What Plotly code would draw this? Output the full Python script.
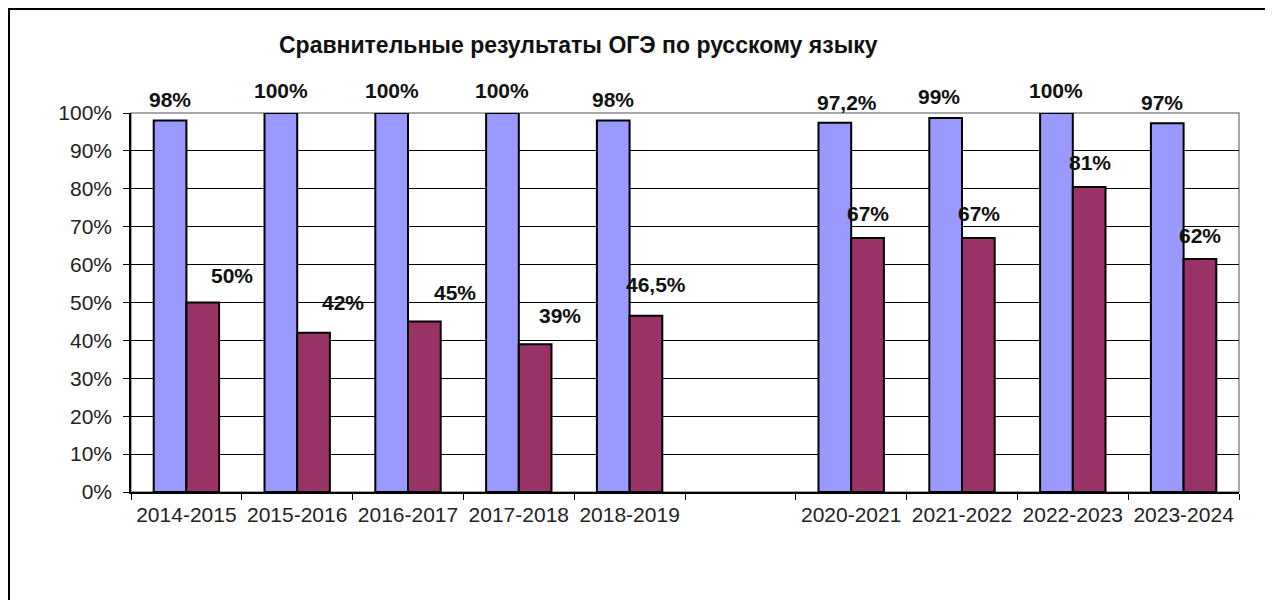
import plotly.graph_objects as go

# data
years = ["2014-2015", "2015-2016", "2016-2017", "2017-2018", "2018-2019", " ",
         "2020-2021", "2021-2022", "2022-2023", "2023-2024"]
passed = [98, 100, 100, 100, 98, None, 97.4, 98.7, 100, 97.3]
quality = [50, 42, 45, 39, 46.5, None, 67, 67, 80.5, 61.5]
passed_text = ["98%", "100%", "100%", "100%", "98%", "", "97,2%", "99%", "100%", "97%"]
quality_text = ["50%", "42%", "45%", "39%", "46,5%", "", "67%", "67%", "81%", "62%"]

# manual label nudges (px), like the hand-moved labels in the original
passed_dx = [0, 0, 0, 0, 0, 0, 12, -7, 0, -5]
passed_dy = [8, 9, 9, 9, 8, 0, 7, 8, 9, 7]
quality_dx = [29, 29, 30, 25, 10, 0, 0, 0, 1, 0]
quality_dy = [14, 17, 15, 15, 18, 0, 11, 11, 11, 10]

FONT = "Liberation Sans, Arial, sans-serif"
BLUE = "#9999FF"
RED = "#993366"
HALF_BAR = 16.5

y_frac = lambda v: None if v is None else v / 100

fig = go.Figure()
fig.add_trace(go.Bar(x=years, y=[y_frac(v) for v in passed], marker_color=BLUE,
                     marker_line=dict(color="black", width=2), name="passed"))
fig.add_trace(go.Bar(x=years, y=[y_frac(v) for v in quality], marker_color=RED,
                     marker_line=dict(color="black", width=2), name="quality"))

for i, cat in enumerate(years):
    if passed[i] is None:
        continue
    fig.add_annotation(x=cat, y=passed[i] / 100, text="<b>%s</b>" % passed_text[i],
                       showarrow=False, yanchor="bottom", xanchor="center",
                       xshift=-HALF_BAR + passed_dx[i], yshift=passed_dy[i],
                       font=dict(family=FONT, size=21, color="#111"))
    fig.add_annotation(x=cat, y=quality[i] / 100, text="<b>%s</b>" % quality_text[i],
                       showarrow=False, yanchor="bottom", xanchor="center",
                       xshift=HALF_BAR + quality_dx[i], yshift=quality_dy[i],
                       font=dict(family=FONT, size=21, color="#111"))

# plot area border (gray) and outer chart frame
fig.add_shape(type="rect", xref="paper", yref="paper", x0=0, y0=0, x1=1, y1=1,
              line=dict(color="#8c8c8c", width=1.5), layer="below")
fig.add_shape(type="rect", xref="paper", yref="paper", x0=-0.1101, y0=-0.33,
              x1=1.0253, y1=1.2744, line=dict(color="black", width=2))

fig.update_layout(
    width=1273, height=600,
    margin=dict(l=123, r=42, t=105, b=116),
    paper_bgcolor="white", plot_bgcolor="white",
    barmode="group", bargap=0.41, bargroupgap=0,
    showlegend=False,
    font=dict(family=FONT, size=21, color="#222"),
    title=dict(text="<b>Сравнительные результаты ОГЭ по русскому языку</b>",
               x=0.448, xanchor="center", y=0.938, yanchor="middle",
               font=dict(family=FONT, size=23, color="#111")),
)
fig.update_yaxes(range=[0, 1], tickvals=[i / 10 for i in range(11)], tickformat=".0%",
                 showgrid=True, gridcolor="black", gridwidth=1,
                 showline=True, linecolor="black", linewidth=1.5,
                 ticks="outside", ticklen=6, tickcolor="black", zeroline=False,
                 ticklabelstandoff=7, fixedrange=True)
fig.update_xaxes(showline=True, linecolor="black", linewidth=1.5,
                 ticks="outside", ticklen=6, tickcolor="black", tickson="boundaries",
                 ticklabelstandoff=3, showgrid=False, fixedrange=True)

fig.write_html("out.html")
